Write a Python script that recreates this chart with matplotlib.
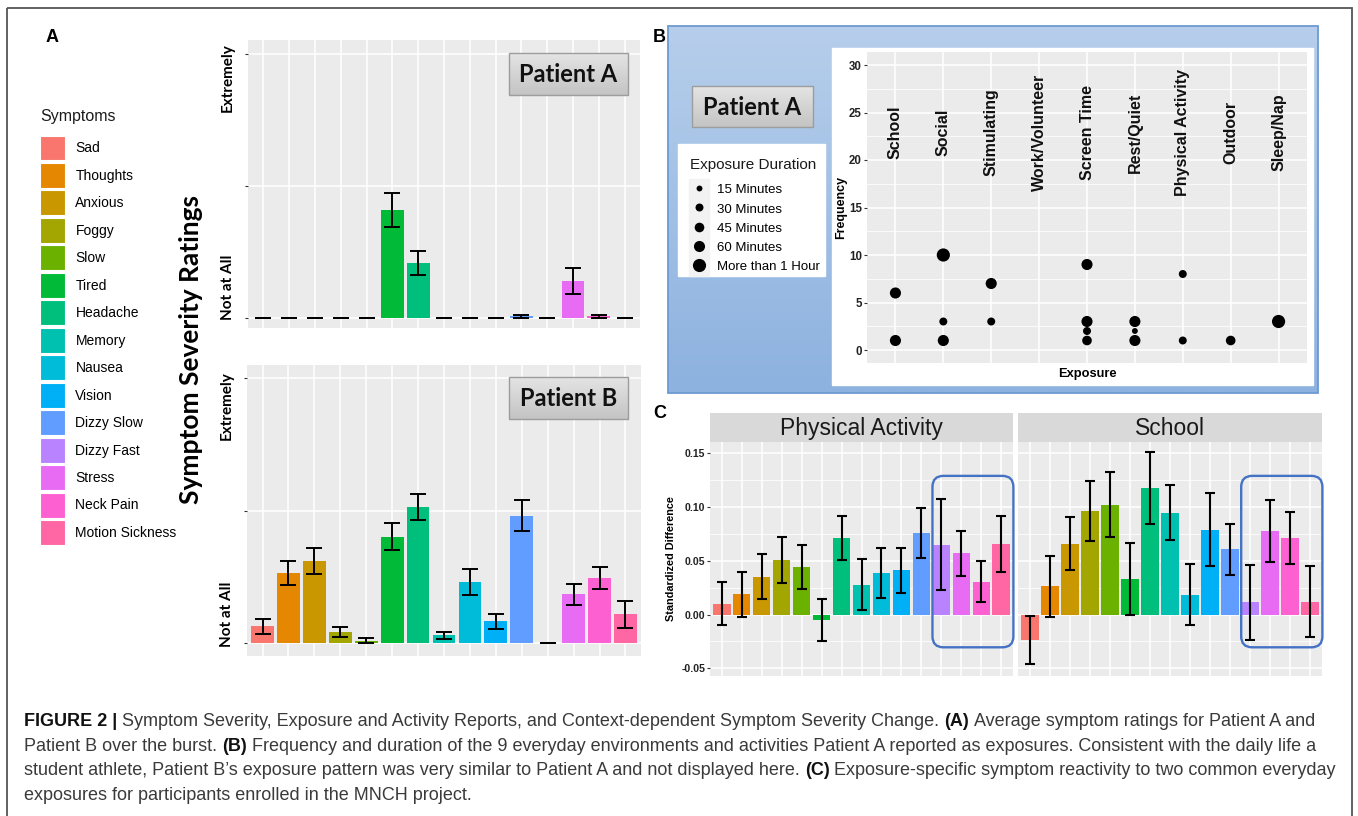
import numpy as np
import matplotlib
matplotlib.use('Agg')
import matplotlib.pyplot as plt
from matplotlib.patches import Rectangle, FancyBboxPatch, Patch
from matplotlib.lines import Line2D
from matplotlib.transforms import IdentityTransform

W, H = 1358, 816

# ---- data ----
symptoms = ['Sad', 'Thoughts', 'Anxious', 'Foggy', 'Slow', 'Tired', 'Headache', 'Memory',
            'Nausea', 'Vision', 'Dizzy Slow', 'Dizzy Fast', 'Stress', 'Neck Pain', 'Motion Sickness']
colors = ['#F8766D', '#E58700', '#C99800', '#A3A500', '#6BB100', '#00BA38', '#00BF7D', '#00C0AF',
          '#00BCD8', '#00B0F6', '#619CFF', '#B983FF', '#E76BF3', '#FD61D1', '#FF67A4']

# panel A, ratings scaled 0 (Not at All) .. 1 (Extremely)
patA_mean = [0, 0, 0, 0, 0, 0.409, 0.208, 0, 0, 0, 0.007, 0, 0.141, 0.006, 0]
patA_err = [0, 0, 0, 0, 0, 0.066, 0.047, 0, 0, 0, 0.006, 0, 0.050, 0.005, 0]
patB_mean = [0.064, 0.265, 0.309, 0.044, 0.010, 0.402, 0.512, 0.030, 0.230, 0.083, 0.481, 0, 0.184, 0.247, 0.109]
patB_err = [0.029, 0.046, 0.050, 0.019, 0.009, 0.050, 0.049, 0.014, 0.050, 0.028, 0.059, 0, 0.041, 0.041, 0.051]

# panel B
exposures = ['School', 'Social', 'Stimulating', 'Work/Volunteer', 'Screen Time', 'Rest/Quiet',
             'Physical Activity', 'Outdoor', 'Sleep/Nap']
durations = ['15 Minutes', '30 Minutes', '45 Minutes', '60 Minutes', 'More than 1 Hour']
dur_size = [18, 33, 48, 64, 90]
exp_name = ['School', 'School', 'Social', 'Social', 'Social', 'Stimulating', 'Stimulating',
            'Screen Time', 'Screen Time', 'Screen Time', 'Screen Time', 'Rest/Quiet', 'Rest/Quiet',
            'Rest/Quiet', 'Physical Activity', 'Physical Activity', 'Outdoor', 'Sleep/Nap']
exp_freq = [6, 1, 10, 3, 1, 7, 3, 9, 3, 2, 1, 3, 2, 1, 8, 1, 1, 3]
exp_dur = ['60 Minutes', '60 Minutes', 'More than 1 Hour', '30 Minutes', '60 Minutes', '60 Minutes',
           '30 Minutes', '60 Minutes', '60 Minutes', '30 Minutes', '45 Minutes', '60 Minutes',
           '15 Minutes', '60 Minutes', '30 Minutes', '30 Minutes', '45 Minutes', 'More than 1 Hour']

# panel C
facets = ['Physical Activity', 'School']
phys_diff = [0.010, 0.019, 0.035, 0.0505, 0.0443, -0.005, 0.0713, 0.0279, 0.0384, 0.041, 0.076,
             0.0651, 0.057, 0.0304, 0.0657]
phys_err = [0.020, 0.021, 0.021, 0.0215, 0.0208, 0.0197, 0.0207, 0.0237, 0.0234, 0.021, 0.023,
            0.0425, 0.021, 0.019, 0.026]
school_diff = [-0.0236, 0.0264, 0.0657, 0.0961, 0.102, 0.0326, 0.1178, 0.0949, 0.0186, 0.0788,
               0.0605, 0.0112, 0.0775, 0.071, 0.0121]
school_err = [0.0224, 0.0283, 0.0247, 0.028, 0.0302, 0.0335, 0.0337, 0.026, 0.0284, 0.0341,
              0.024, 0.0349, 0.029, 0.0242, 0.0327]

SANS = ['Liberation Sans', 'DejaVu Sans']
CAL = ['Lato', 'DejaVu Sans']

fig = plt.figure(figsize=(W / 100, H / 100), dpi=100)
renderer = fig.canvas.get_renderer()


def px_axes(x0, y0, x1, y1, **kw):
    return fig.add_axes([x0 / W, 1 - y1 / H, (x1 - x0) / W, (y1 - y0) / H], **kw)


def overlay(z):
    ax = fig.add_axes([0, 0, 1, 1], zorder=z)
    ax.set_xlim(0, W)
    ax.set_ylim(H, 0)
    ax.axis('off')
    return ax


def gradient_box(ax, x0, y0, x1, y1, ctop, cbot, edge, lw=1.0):
    c1 = np.array(matplotlib.colors.to_rgb(ctop))
    c2 = np.array(matplotlib.colors.to_rgb(cbot))
    t = np.linspace(0, 1, 64)[:, None, None]
    grad = c1 * (1 - t) + c2 * t
    ax.imshow(grad, extent=(x0, x1, y1, y0), aspect='auto', origin='upper', interpolation='bilinear')
    ax.add_patch(Rectangle((x0, y0), x1 - x0, y1 - y0, fill=False, edgecolor=edge, lw=lw))
    ax.set_xlim(0, W)
    ax.set_ylim(H, 0)


def gg(ax):
    ax.set_facecolor('#EBEBEB')
    for s in ax.spines.values():
        s.set_visible(False)
    ax.set_axisbelow(True)
    ax.grid(True, which='major', color='white', lw=1.1)
    ax.tick_params(axis='x', length=0, labelbottom=False)
    ax.tick_params(axis='y', length=2.5, width=0.8, color='#333333', pad=1)


bg = overlay(-1)
fg = overlay(5)

# outer frame
bg.add_patch(Rectangle((7, 8), 1345, 830, fill=False, edgecolor='#555555', lw=1.3, clip_on=False))

# ---------------- panel A ----------------
fig.text(52 / W, 1 - 37 / H, 'A', fontsize=13, fontweight='bold', family=SANS, ha='center', va='center')
x = np.arange(len(symptoms))


def rating_panel(box, mean, err, ylim, ext_y, not_y):
    ax = px_axes(*box)
    gg(ax)
    ax.bar(x, mean, width=0.88, color=colors)
    ax.errorbar(x, mean, yerr=err, fmt='none', ecolor='black', elinewidth=1.4, capsize=5.5, capthick=1.4)
    ax.set_xlim(-0.6, 14.6)
    ax.set_ylim(*ylim)
    ax.set_xticks(x)
    ax.set_yticks([0, 0.5, 1])
    ax.tick_params(axis='y', labelleft=False)
    tr = ax.get_yaxis_transform()
    ax.text(-0.051, ext_y, 'Extremely', transform=tr, rotation=90, ha='center', va='top',
            fontsize=11, fontweight='bold', family=CAL)
    ax.text(-0.051, not_y, 'Not at All', transform=tr, rotation=90, ha='center', va='bottom',
            fontsize=11, fontweight='bold', family=CAL)
    return ax


axA1 = rating_panel((248, 40, 640, 328), patA_mean, patA_err, (-0.038, 1.053), 1.042, -0.008)
axA2 = rating_panel((247, 365, 641, 656), patB_mean, patB_err, (-0.048, 1.048), 1.025, -0.014)

for (x0, y0, x1, y1), name in [((509, 53, 628, 95), 'Patient A'), ((509, 377, 628, 419), 'Patient B')]:
    gradient_box(fg, x0, y0, x1, y1, '#E4E4E4', '#C4C4C4', '#9C9C9C')
    fg.text((x0 + x1) / 2, (y0 + y1) / 2 + 1, name, ha='center', va='center', fontsize=17,
            fontweight='bold', family=CAL, color='#111111')

fig.text(191 / W, 1 - 350 / H, 'Symptom Severity Ratings', rotation=90, ha='center', va='center',
         fontsize=19, fontweight='bold', family=CAL)

fig.text(40 / W, 1 - 117 / H, 'Symptoms', fontsize=11.5, family=SANS, ha='left', va='center', color='#1a1a1a')
fig.legend(handles=[Patch(facecolor=c, edgecolor='white', lw=0.8) for c in colors], labels=symptoms,
           loc='upper left', bbox_to_anchor=(40 / W, 1 - 135.5 / H), frameon=False,
           prop={'family': SANS, 'size': 10}, handlelength=1.8, handleheight=2.39,
           labelspacing=0.18, handletextpad=0.75, borderpad=0, borderaxespad=0)

# ---------------- panel B ----------------
fig.text(659 / W, 1 - 37 / H, 'B', fontsize=13, fontweight='bold', family=SANS, ha='center', va='center')
gradient_box(bg, 668, 26, 1318, 393, '#B6CEEB', '#8DB2DF', '#6C9BD2', lw=1.3)
bg.add_patch(Rectangle((832, 48), 1313 - 832, 385 - 48, color='white'))
bg.add_patch(Rectangle((678, 144), 825 - 678, 276 - 144, color='white'))
bg.add_patch(Rectangle((689, 179), 20, 97, color='#F2F2F2'))
gradient_box(fg, 692, 86, 813, 127, '#E4E4E4', '#C4C4C4', '#9C9C9C')
fg.text(752.5, 107.5, 'Patient A', ha='center', va='center', fontsize=17, fontweight='bold',
        family=CAL, color='#111111')

axB = px_axes(866.7, 51.7, 1307.3, 363.3)
gg(axB)
axB.set_xlim(-0.6, 8.6)
axB.set_ylim(-1.4, 31.4)
axB.set_xticks(range(len(exposures)))
axB.set_yticks(range(0, 31, 5))
axB.set_yticks(np.arange(2.5, 30, 5), minor=True)
axB.grid(True, which='minor', axis='y', color='white', lw=0.55)
axB.tick_params(axis='y', which='minor', length=0)
for lab in axB.get_yticklabels():
    lab.set_fontweight('bold')
    lab.set_fontsize(8.3)
    lab.set_family(SANS)
    lab.set_color('#222222')
ex_idx = [exposures.index(n) for n in exp_name]
sizes = [dur_size[durations.index(d)] for d in exp_dur]
axB.scatter(ex_idx, exp_freq, s=sizes, color='black', zorder=3, linewidths=0)
for i, name in enumerate(exposures):
    axB.text(i, 22.9, name, rotation=90, ha='center', va='center', fontsize=11.5,
             fontweight='bold', family=SANS, color='#111111')
axB.text(-0.058, 0.5, 'Frequency', transform=axB.transAxes, rotation=90, ha='center', va='center',
         fontsize=9, fontweight='bold', family=SANS)
axB.text(0.5, -0.034, 'Exposure', transform=axB.transAxes, ha='center', va='center',
         fontsize=9.3, fontweight='bold', family=SANS)

fig.text(690 / W, 1 - 165 / H, 'Exposure Duration', fontsize=11, family=SANS, ha='left', va='center',
         color='#1a1a1a')
fig.legend(handles=[Line2D([], [], marker='o', ls='', color='black', markeredgewidth=0,
                           markersize=np.sqrt(s)) for s in dur_size],
           labels=durations, loc='upper left', bbox_to_anchor=(688 / W, 1 - 183 / H), frameon=False,
           prop={'family': SANS, 'size': 9.5}, handlelength=1.67, handleheight=1.0,
           labelspacing=0.44, handletextpad=0.53, borderpad=0, borderaxespad=0)

# ---------------- panel C ----------------
fig.text(659.5 / W, 1 - 414 / H, 'C', fontsize=13, fontweight='bold', family=SANS, ha='center', va='center')
c_data = [(phys_diff, phys_err), (school_diff, school_err)]
c_boxes = [(710, 1013), (1018, 1322)]
c_axes = []
for k, (fname, (vals, errs), (x0, x1)) in enumerate(zip(facets, c_data, c_boxes)):
    strip = px_axes(x0, 413, x1, 441.7)
    strip.set_facecolor('#D9D9D9')
    strip.set_xticks([])
    strip.set_yticks([])
    for s in strip.spines.values():
        s.set_visible(False)
    strip.text(0.5, 0.47, fname, transform=strip.transAxes, ha='center', va='center', fontsize=16.5,
               family=SANS, color='#1a1a1a')

    ax = px_axes(x0, 441.7, x1, 676)
    gg(ax)
    ax.bar(x, vals, width=0.86, color=colors)
    ax.errorbar(x, vals, yerr=errs, fmt='none', ecolor='black', elinewidth=1.5, capsize=3.6, capthick=1.5)
    ax.set_xlim(-0.6, 14.6)
    ax.set_ylim(-0.0572, 0.1608)
    ax.set_xticks(x)
    ax.set_yticks([-0.05, 0, 0.05, 0.10, 0.15])
    ax.set_yticks([-0.025, 0.025, 0.075, 0.125], minor=True)
    ax.grid(True, which='minor', axis='y', color='white', lw=0.55)
    ax.tick_params(axis='y', which='minor', length=0)
    if k == 0:
        ax.set_yticklabels(['-0.05', '0.00', '0.05', '0.10', '0.15'], fontsize=7.6, fontweight='bold',
                           family=SANS, color='#222222')
        ax.text(-0.129, 0.5, 'Standardized Difference', transform=ax.transAxes, rotation=90,
                ha='center', va='center', fontsize=7.8, fontweight='bold', family=SANS)
    else:
        ax.tick_params(axis='y', labelleft=False, length=0)
    c_axes.append(ax)

# highlighted symptom groups (Dizzy Fast .. Motion Sickness)
for ax in c_axes:
    (dx0, dy0) = ax.transData.transform((10.56, -0.0305))
    (dx1, dy1) = ax.transData.transform((14.62, 0.129))
    fg.add_patch(FancyBboxPatch((dx0, dy0), dx1 - dx0, dy1 - dy0,
                                boxstyle='round,pad=0,rounding_size=11', fill=False,
                                edgecolor='#4472C4', lw=1.7, transform=IdentityTransform(),
                                clip_on=False))

# ---------------- caption ----------------
CAP = ['Liberation Sans Narrow', 'Liberation Sans']
caption = [
    [('FIGURE 2 |', True), ('Symptom Severity, Exposure and Activity Reports, and Context-dependent '
                            'Symptom Severity Change.', False), ('(A)', True),
     ('Average symptom ratings for Patient A and', False)],
    [('Patient B over the burst.', False), ('(B)', True),
     ('Frequency and duration of the 9 everyday environments and activities Patient A reported as '
      'exposures. Consistent with the daily life a', False)],
    [('student athlete, Patient B\u2019s exposure pattern was very similar to Patient A and not '
      'displayed here.', False), ('(C)', True),
     ('Exposure-specific symptom reactivity to two common everyday', False)],
    [('exposures for participants enrolled in the MNCH project.', False)],
]


def text_w(s, fs, bold):
    t = fig.text(0, 0, s, fontsize=fs, fontweight='bold' if bold else 'normal', family=CAP)
    w = t.get_window_extent(renderer).width
    t.remove()
    return w


def line_w(pieces, fs):
    sp = text_w('a a', fs, False) - text_w('aa', fs, False)
    return sum(text_w(s, fs, b) for s, b in pieces) + sp * (len(pieces) - 1), sp


w1, _ = line_w(caption[0], 10)
cap_fs = 10 * 1298 / w1
for row, pieces in enumerate(caption):
    _, sp = line_w(pieces, cap_fs)
    cur = 24
    y = 721.5 + row * 24.7
    for s, b in pieces:
        t = fig.text(cur / W, 1 - y / H, s, fontsize=cap_fs, fontweight='bold' if b else 'normal',
                     family=CAP, color='#111111' if b else '#3a3a3a', ha='left', va='center')
        cur += t.get_window_extent(renderer).width + sp

fig.savefig('out.png', dpi=100)
